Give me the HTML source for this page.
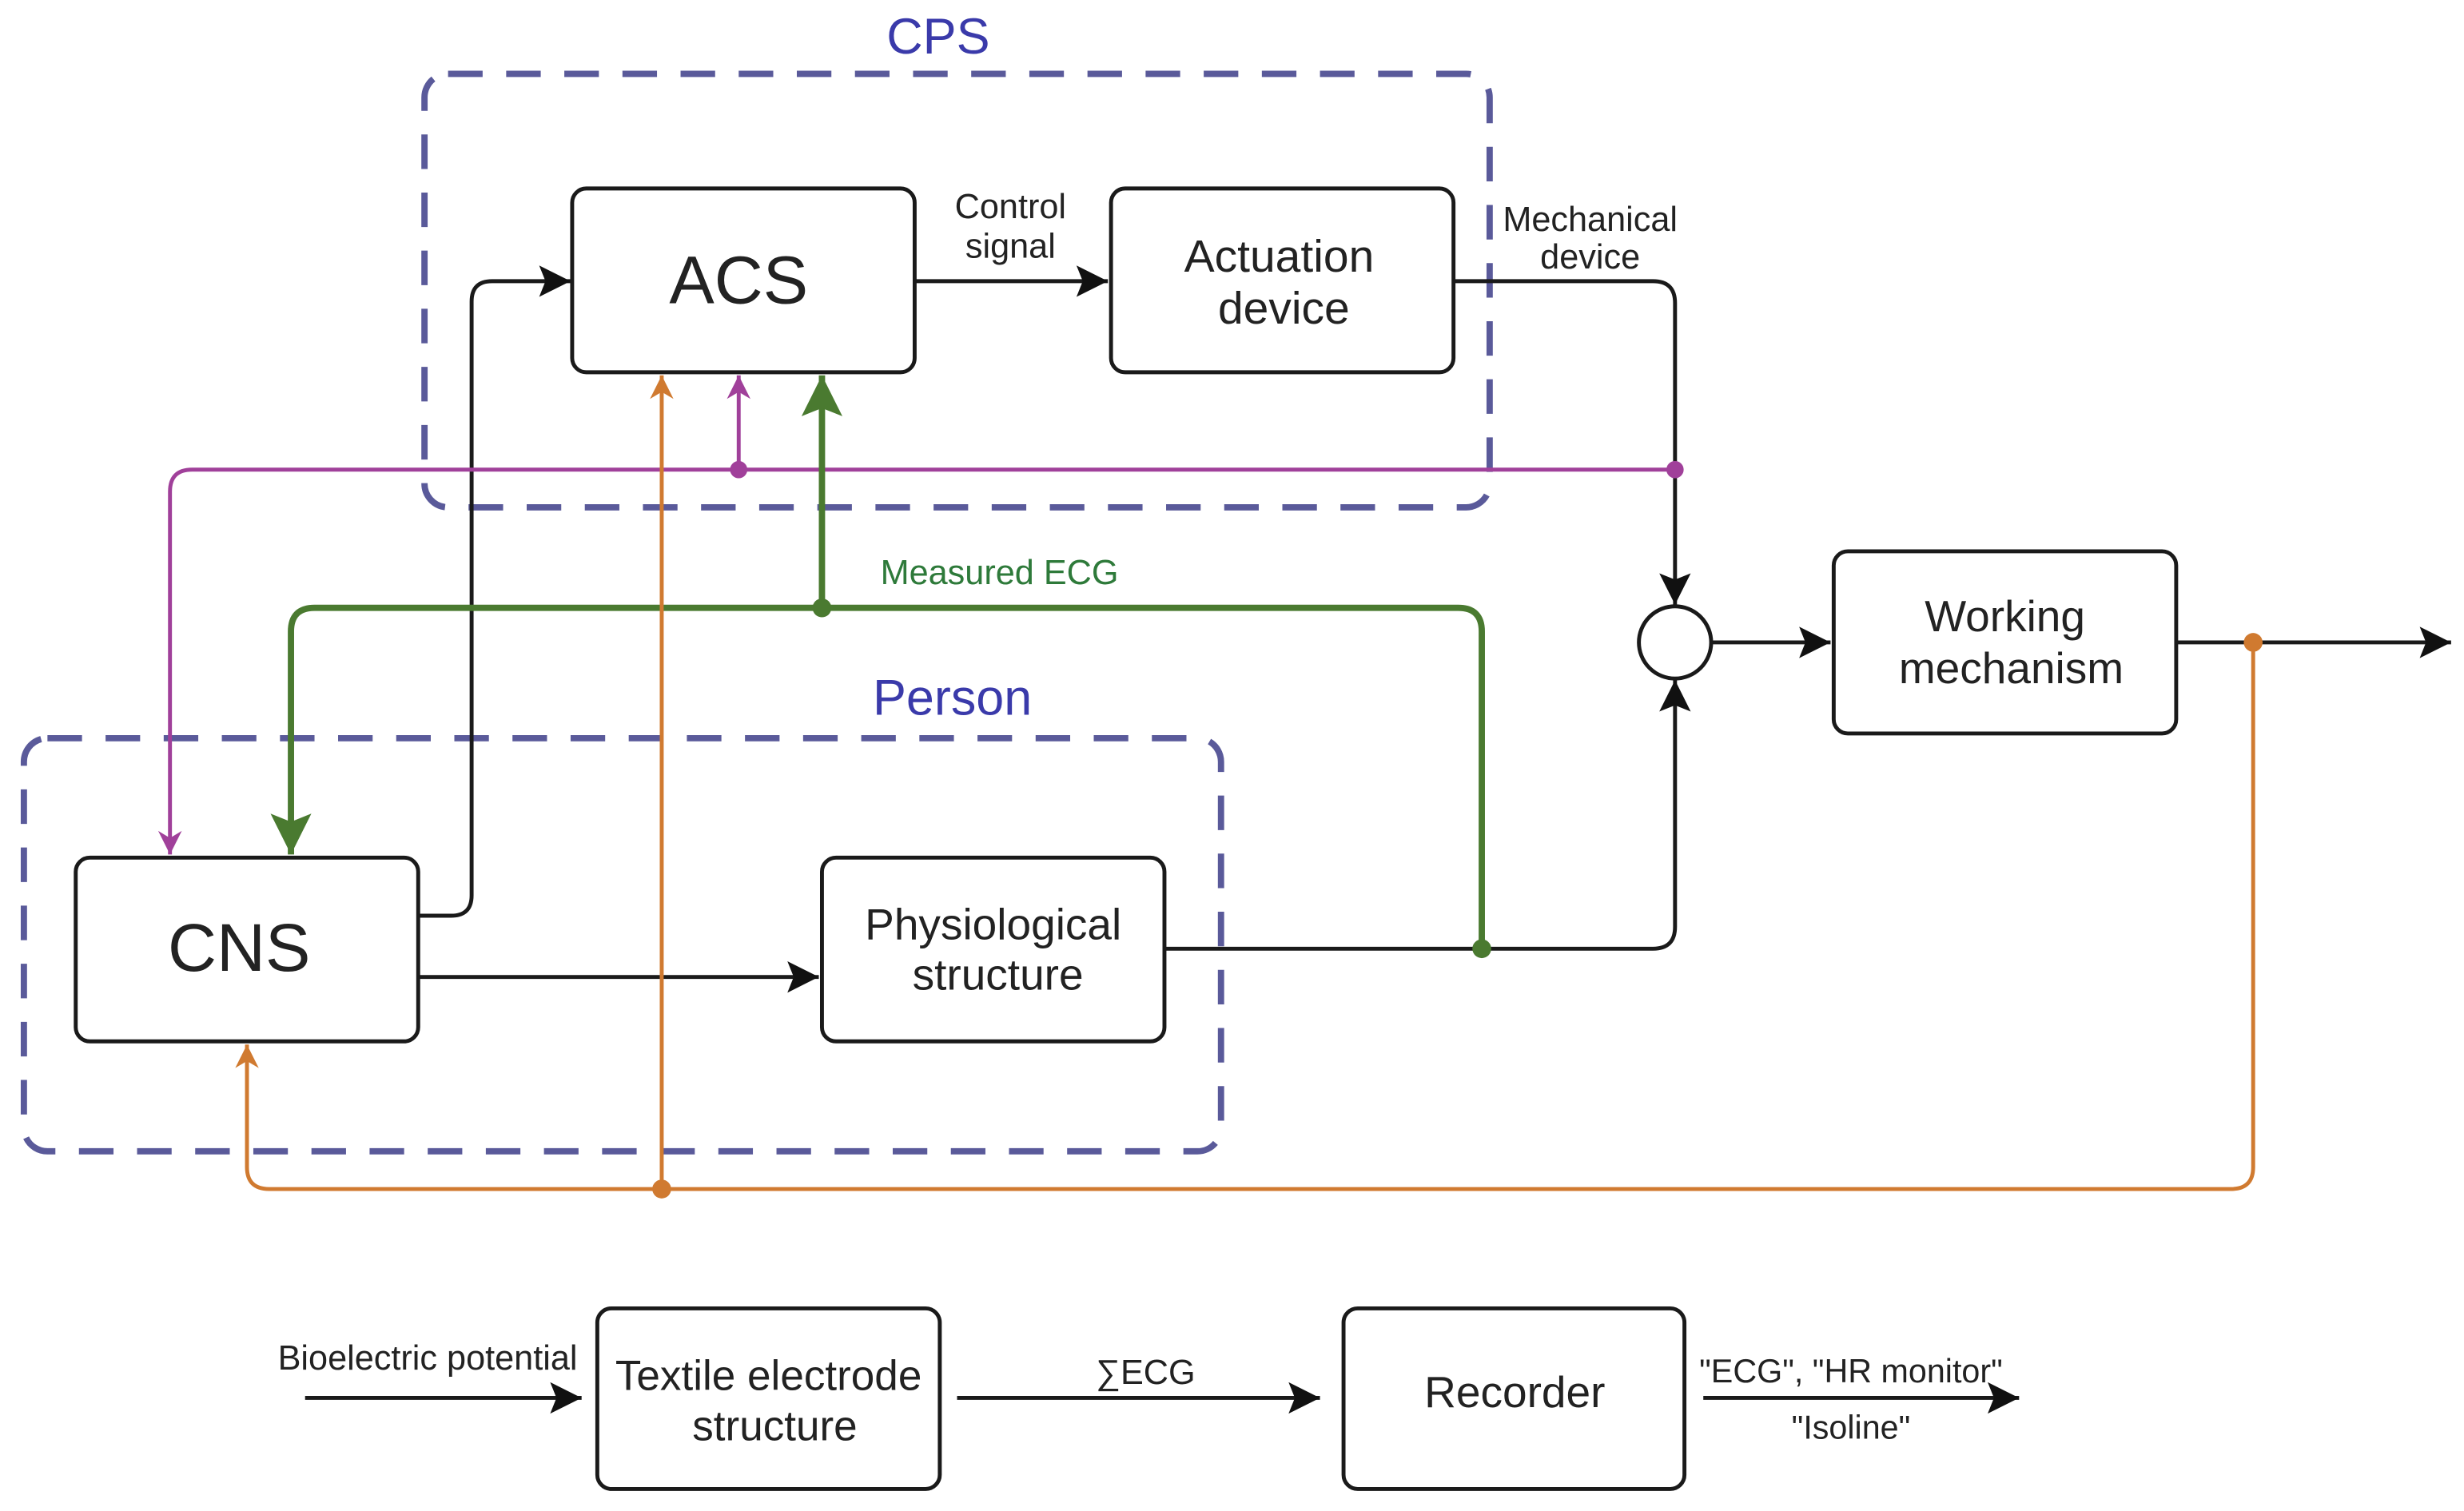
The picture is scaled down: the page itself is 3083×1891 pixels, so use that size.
<!DOCTYPE html>
<html><head><meta charset="utf-8"><style>
html,body{margin:0;padding:0;background:#fff}
svg{display:block}
text{font-family:"Liberation Sans",sans-serif;fill:#222}
</style></head><body>
<svg width="3083" height="1891" viewBox="0 0 1568 962" xmlns="http://www.w3.org/2000/svg">
<defs>
<marker id="abL" viewBox="0 0 10 10" refX="10" refY="5" markerWidth="24" markerHeight="20" markerUnits="userSpaceOnUse" orient="auto"><path d="M0,0 L10,5 L0,10 L2,5 Z" fill="#111"/></marker>
<marker id="am" viewBox="0 0 10 10" refX="10" refY="5" markerWidth="20" markerHeight="15" markerUnits="userSpaceOnUse" orient="auto"><path d="M0,0 L10,5 L0,10 L3,5 Z" fill="#a0409a"/></marker>
<marker id="ao" viewBox="0 0 10 10" refX="10" refY="5" markerWidth="20" markerHeight="15" markerUnits="userSpaceOnUse" orient="auto"><path d="M0,0 L10,5 L0,10 L3,5 Z" fill="#d07a30"/></marker>
<marker id="ag" viewBox="0 0 10 10" refX="10" refY="5" markerWidth="32" markerHeight="26" markerUnits="userSpaceOnUse" orient="auto"><path d="M0,0 L10,5 L0,10 L2,5 Z" fill="#4a7a30"/></marker>
</defs>

<rect x="270" y="47" width="678" height="276" rx="15" fill="none" stroke="#5a5a9a" stroke-width="4" stroke-dasharray="22 15"/>
<rect x="15" y="470" width="762" height="263" rx="15" fill="none" stroke="#5a5a9a" stroke-width="4" stroke-dasharray="22 15"/>
<text x="597" y="34" font-size="32" text-anchor="middle" style="fill:#3a3aaa">CPS</text>
<text x="606" y="455" font-size="32" text-anchor="middle" style="fill:#3a3aaa">Person</text>

<g fill="#fff" stroke="#1a1a1a" stroke-width="2.5">
<rect x="364" y="120" width="218" height="117" rx="9"/>
<rect x="707" y="120" width="218" height="117" rx="9"/>
<rect x="1167" y="351" width="218" height="116" rx="9"/>
<rect x="48" y="546" width="218" height="117" rx="9"/>
<rect x="523" y="546" width="218" height="117" rx="9"/>
<rect x="380" y="833" width="218" height="115" rx="9"/>
<rect x="855" y="833" width="217" height="115" rx="9"/>
<circle cx="1066" cy="409" r="23"/>
</g>

<g fill="none" stroke="#1a1a1a" stroke-width="2.5">
<path d="M582,179 L705,179" marker-end="url(#abL)"/>
<path d="M925,179 L1052,179 Q1066,179 1066,193 L1066,385" marker-end="url(#abL)"/>
<path d="M266,583 L287,583 Q300,583 300,570 L300,192 Q300,179 313,179 L363,179" marker-end="url(#abL)"/>
<path d="M266,622 L521,622" marker-end="url(#abL)"/>
<path d="M741,604 L1052,604 Q1066,604 1066,590 L1066,433" marker-end="url(#abL)"/>
<path d="M1089,409 L1165,409" marker-end="url(#abL)"/>
<path d="M1385,409 L1560,409" marker-end="url(#abL)"/>
<path d="M194,890 L370,890" marker-end="url(#abL)"/>
<path d="M609,890 L840,890" marker-end="url(#abL)"/>
<path d="M1084,890 L1285,890" marker-end="url(#abL)"/>
</g>

<g fill="none" stroke="#a0409a" stroke-width="2.5">
<path d="M1066,299 L122,299 Q108,299 108,313 L108,544" marker-end="url(#am)"/>
<path d="M470,299 L470,239" marker-end="url(#am)"/>
</g>
<circle cx="470" cy="299" r="5.5" fill="#a0409a"/>
<circle cx="1066" cy="299" r="5.5" fill="#a0409a"/>

<g fill="none" stroke="#4a7a30" stroke-width="4">
<path d="M943,604 L943,402 Q943,387 928,387 L200,387 Q185,387 185,402 L185,544" marker-end="url(#ag)"/>
<path d="M523,387 L523,239" marker-end="url(#ag)"/>
</g>
<circle cx="523" cy="387" r="6" fill="#4a7a30"/>
<circle cx="943" cy="604" r="6" fill="#4a7a30"/>
<text x="636" y="372" font-size="22" text-anchor="middle" style="fill:#2e7a3a">Measured ECG</text>

<g fill="none" stroke="#d07a30" stroke-width="2.5">
<path d="M1434,409 L1434,743 Q1434,757 1420,757 L171,757 Q157,757 157,743 L157,665" marker-end="url(#ao)"/>
<path d="M421,757 L421,239" marker-end="url(#ao)"/>
</g>
<circle cx="421" cy="757" r="6" fill="#d07a30"/>
<circle cx="1434" cy="409" r="6" fill="#d07a30"/>

<text x="470" y="193" font-size="43" text-anchor="middle">ACS</text>
<text x="643" y="139" font-size="22" text-anchor="middle">Control</text>
<text x="643" y="164" font-size="22" text-anchor="middle">signal</text>
<text x="814" y="173" font-size="29" text-anchor="middle">Actuation</text>
<text x="817" y="206" font-size="29" text-anchor="middle">device</text>
<text x="1012" y="147" font-size="22" text-anchor="middle">Mechanical</text>
<text x="1012" y="171" font-size="22" text-anchor="middle">device</text>
<text x="1276" y="402" font-size="28" text-anchor="middle">Working</text>
<text x="1280" y="435" font-size="28" text-anchor="middle">mechanism</text>
<text x="152" y="618" font-size="43" text-anchor="middle">CNS</text>
<text x="632" y="598" font-size="28" text-anchor="middle">Physiological</text>
<text x="635" y="630" font-size="28" text-anchor="middle">structure</text>
<text x="272" y="872" font-size="22" text-anchor="middle">Bioelectric potential</text>
<text x="489" y="885" font-size="27" text-anchor="middle">Textile electrode</text>
<text x="493" y="917" font-size="27" text-anchor="middle">structure</text>
<text x="729" y="881" font-size="22" text-anchor="middle">∑ECG</text>
<text x="964" y="896" font-size="28" text-anchor="middle">Recorder</text>
<text x="1178" y="880" font-size="21" text-anchor="middle">"ECG", "HR monitor"</text>
<text x="1178" y="916" font-size="21" text-anchor="middle">"Isoline"</text>
</svg>
</body></html>
